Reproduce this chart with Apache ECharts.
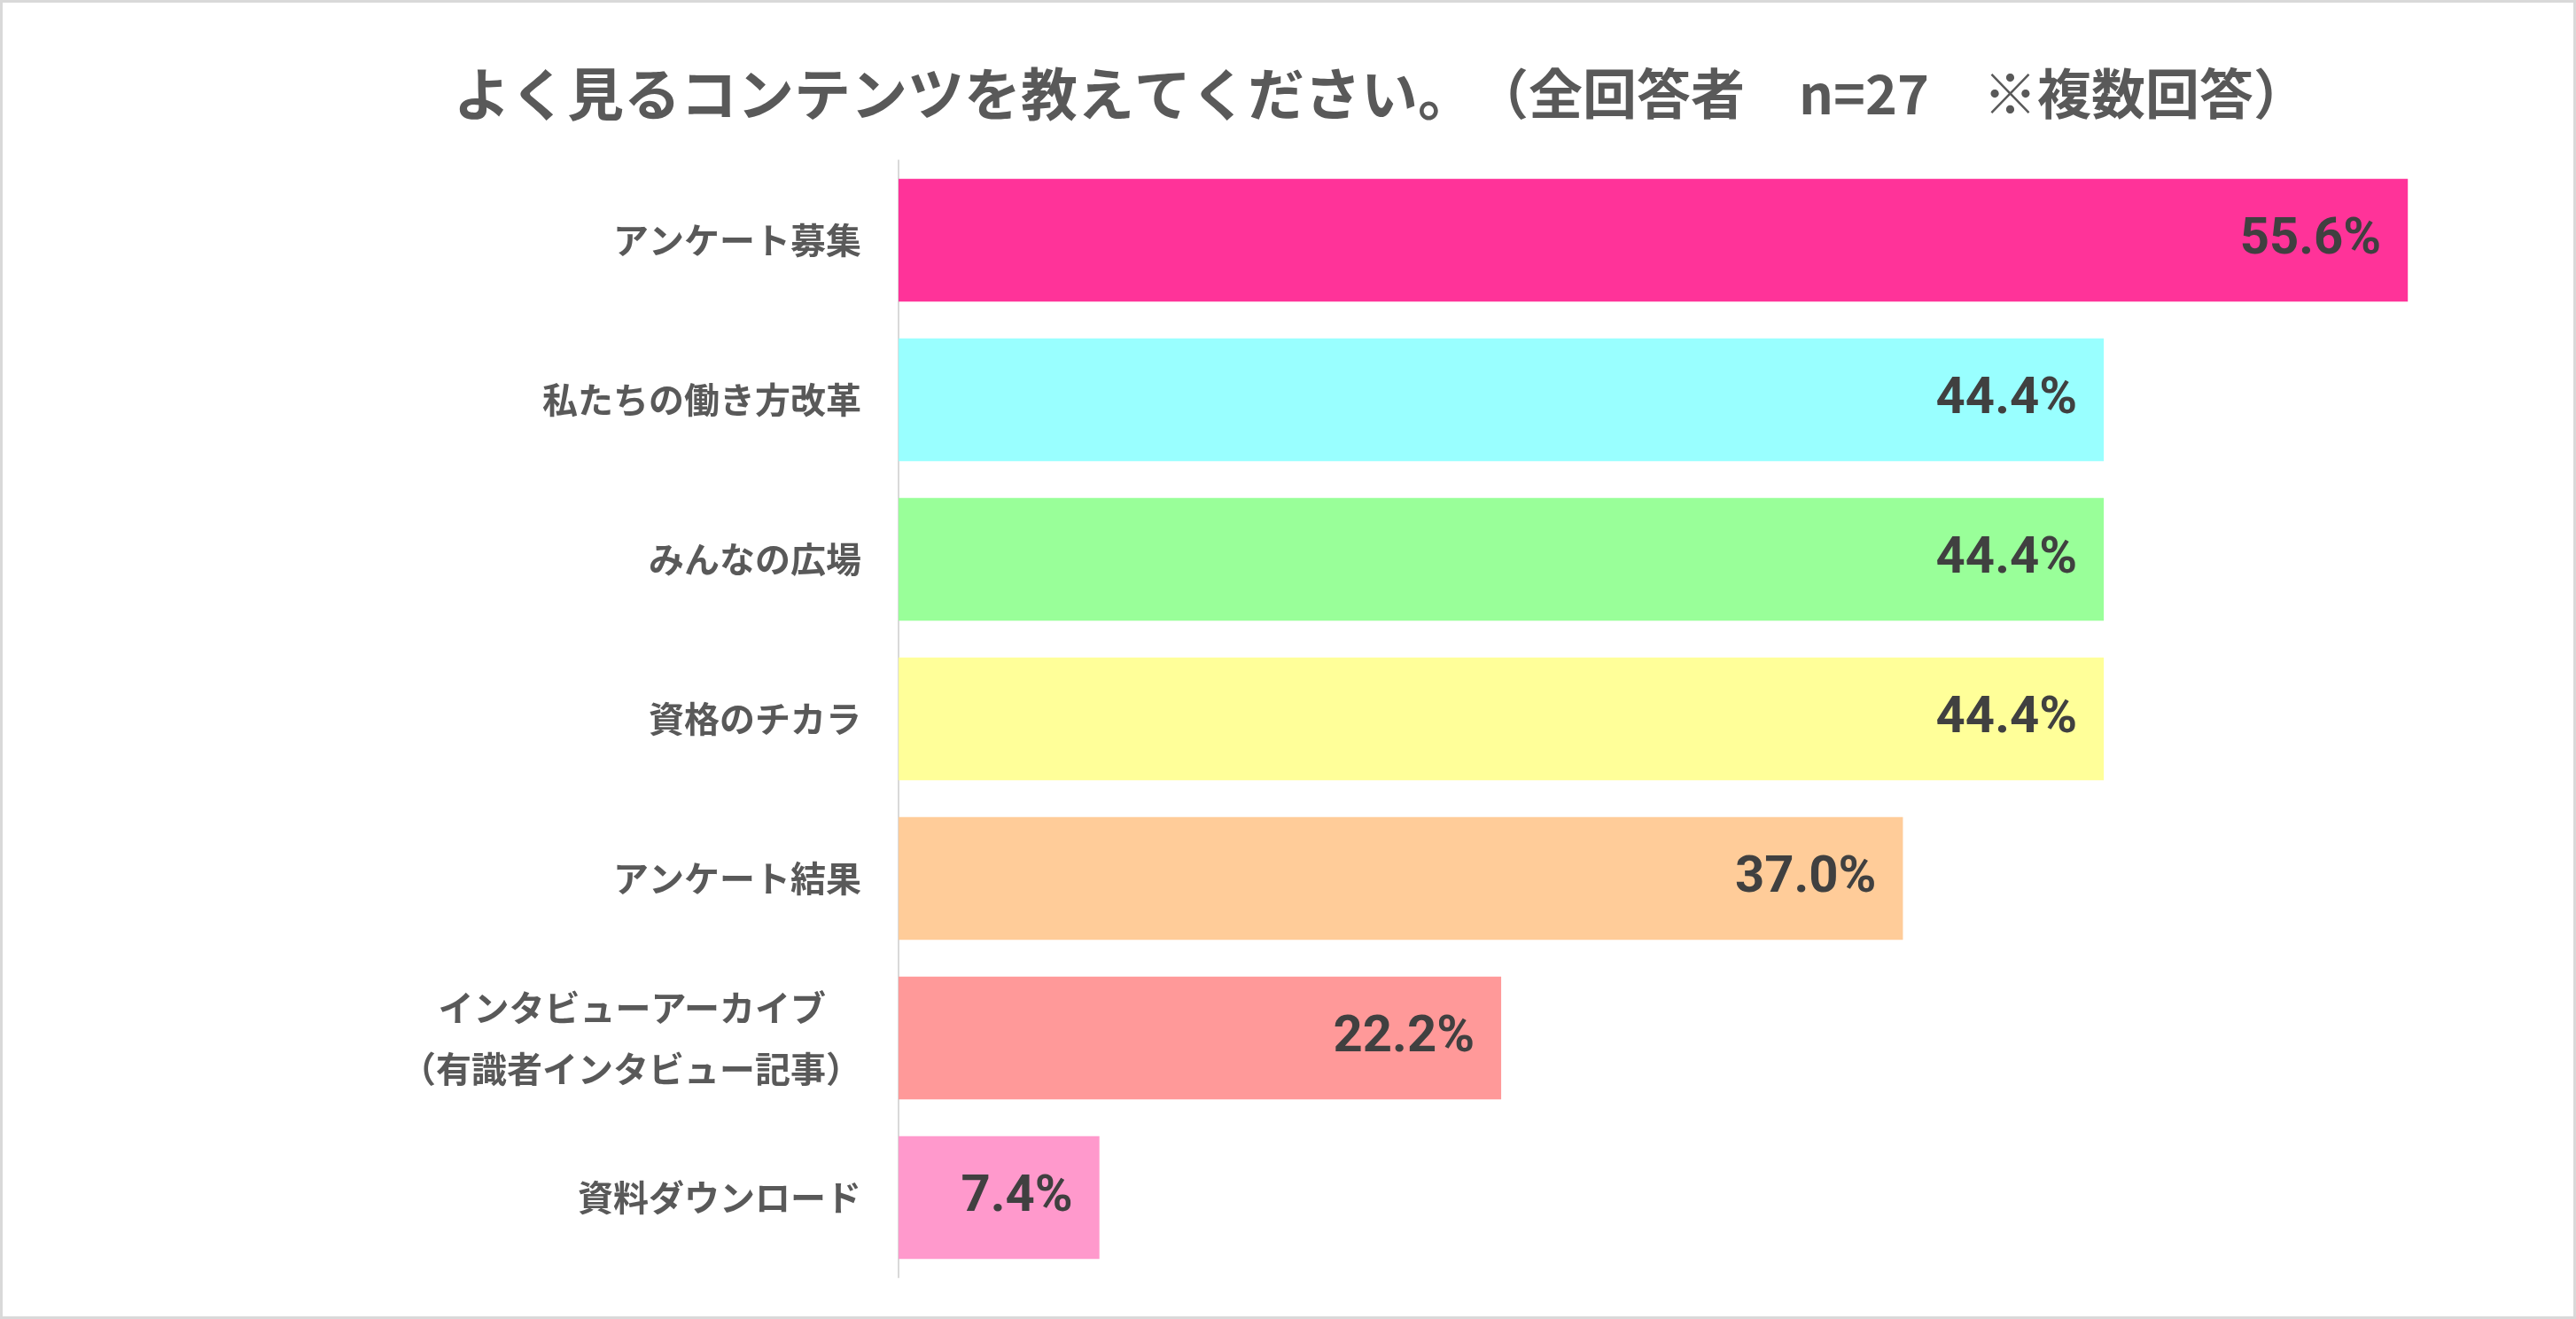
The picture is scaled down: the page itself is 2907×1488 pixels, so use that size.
<!DOCTYPE html>
<html>
<head>
<meta charset="utf-8">
<script src="https://cdn.jsdelivr.net/npm/echarts@6/dist/echarts.min.js"></script>
<style>
html,body{margin:0;padding:0;background:#fff;}
#chart{width:2907px;height:1488px;}
</style>
</head>
<body>
<div id="chart"></div>
<script>
const titleMain = 'よく見るコンテンツを教えてください。';
const titleNote = '（全回答者　n=27　※複数回答）';
const categories = [
  'アンケート募集',
  '私たちの働き方改革',
  'みんなの広場',
  '資格のチカラ',
  'アンケート結果',
  'インタビューアーカイブ　\n（有識者インタビュー記事）',
  '資料ダウンロード'
];
const values = [55.6, 44.4, 44.4, 44.4, 37.0, 22.2, 7.4];
const colors = ['#FF3399', '#99FFFF', '#99FF99', '#FFFF99', '#FFCC99', '#FF9999', '#FF99CC'];

const titleFont = {
  fontFamily: '"Noto Sans CJK JP", sans-serif',
  fontWeight: 'bold',
  color: '#595959',
  lineHeight: 64
};

const chart = echarts.init(document.getElementById('chart'));
chart.setOption({
  backgroundColor: '#ffffff',
  animation: false,
  title: {
    text: '{a|' + titleMain + '}{b|' + titleNote + '}',
    left: 507,
    top: 69,
    textStyle: {
      fontFamily: '"Noto Sans CJK JP", sans-serif',
      fontSize: 63,
      fontWeight: 'bold',
      color: '#595959',
      lineHeight: 64,
      rich: {
        a: Object.assign({fontSize: 64}, titleFont),
        b: Object.assign({fontSize: 61}, titleFont)
      }
    }
  },
  graphic: [{
    type: 'rect',
    silent: true,
    shape: {x: 1.5, y: 1.5, width: 2904, height: 1485},
    style: {fill: 'none', stroke: '#d9d9d9', lineWidth: 3}
  }],
  grid: {left: 1014, right: 55, top: 181, height: 1260, containLabel: false},
  xAxis: {
    type: 'value',
    min: 0,
    max: 60,
    show: false,
    splitLine: {show: false}
  },
  yAxis: {
    type: 'category',
    data: categories,
    inverse: true,
    axisLine: {show: true, lineStyle: {color: '#d9d9d9', width: 2}},
    axisTick: {show: false},
    axisLabel: {
      margin: 42,
      fontFamily: '"Noto Sans CJK JP", sans-serif',
      fontSize: 40,
      fontWeight: 'bold',
      color: '#595959',
      lineHeight: 69,
      align: 'right'
    }
  },
  series: [{
    type: 'bar',
    data: values.map((v, i) => ({value: v, itemStyle: {color: colors[i]}})),
    barCategoryGap: '23%',
    label: {
      show: true,
      position: 'insideRight',
      distance: 30,
      formatter: p => p.value.toFixed(1) + '%',
      fontFamily: 'Roboto, "Liberation Sans", sans-serif',
      fontSize: 58,
      fontWeight: 'bold',
      color: '#404040'
    }
  }]
});
</script>
</body>
</html>
